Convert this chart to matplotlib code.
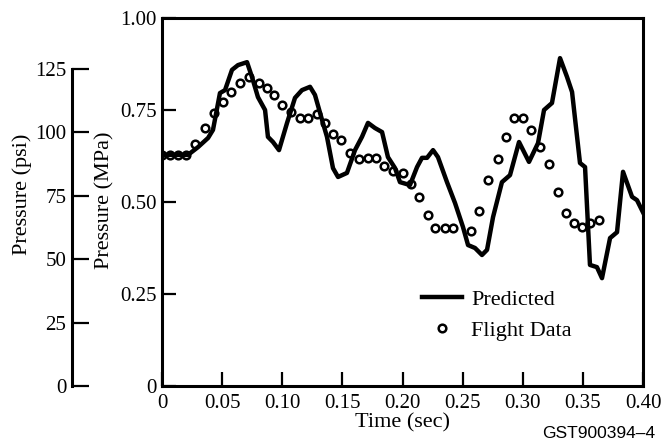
import matplotlib.pyplot as plt
import numpy as np

# Predicted pressure trace (MPa)
pred_t = [0.0, 0.0216, 0.0299, 0.0383, 0.0424, 0.0482, 0.0524, 0.0582, 0.0632, 0.0707,
          0.0748, 0.0798, 0.0857, 0.0881, 0.0923, 0.0973, 0.1040, 0.1106, 0.1164, 0.1231,
          0.1272, 0.1331, 0.1372, 0.1422, 0.1464, 0.1538, 0.1605, 0.1663, 0.1713, 0.1771,
          0.1830, 0.1879, 0.1938, 0.1979, 0.2062, 0.2121, 0.2162, 0.2204, 0.2254, 0.2295,
          0.2370, 0.2437, 0.2503, 0.2545, 0.2603, 0.2661, 0.2703, 0.2753, 0.2827, 0.2894,
          0.2969, 0.3052, 0.3127, 0.3177, 0.3243, 0.3310, 0.3368, 0.3410, 0.3476, 0.3518,
          0.3559, 0.3617, 0.3659, 0.3726, 0.3784, 0.3834, 0.3909, 0.3950, 0.4000]
pred_p = [0.628, 0.628, 0.649, 0.674, 0.696, 0.796, 0.804, 0.859, 0.872, 0.880,
          0.840, 0.785, 0.750, 0.677, 0.663, 0.641, 0.715, 0.783, 0.804, 0.813,
          0.791, 0.723, 0.677, 0.592, 0.568, 0.579, 0.641, 0.677, 0.715, 0.701,
          0.690, 0.622, 0.592, 0.554, 0.546, 0.595, 0.620, 0.620, 0.641, 0.622,
          0.554, 0.497, 0.432, 0.383, 0.375, 0.356, 0.370, 0.459, 0.554, 0.573,
          0.663, 0.609, 0.660, 0.750, 0.769, 0.891, 0.840, 0.799, 0.606, 0.595,
          0.329, 0.323, 0.293, 0.402, 0.418, 0.582, 0.514, 0.505, 0.472]

# Flight data points (MPa)
flight_t = [0.000, 0.0067, 0.0133, 0.0200, 0.0274, 0.0358, 0.0432, 0.0507, 0.0574, 0.0649,
            0.0723, 0.0807, 0.0873, 0.0931, 0.0998, 0.1073, 0.1148, 0.1214, 0.1289, 0.1356,
            0.1422, 0.1489, 0.1563, 0.1638, 0.1713, 0.1780, 0.1846, 0.1921, 0.2004, 0.2071,
            0.2137, 0.2212, 0.2270, 0.2353, 0.2420, 0.2570, 0.2636, 0.2711, 0.2794, 0.2861,
            0.2927, 0.3002, 0.3069, 0.3143, 0.3218, 0.3293, 0.3360, 0.3426, 0.3493, 0.3559,
            0.3634]
flight_p = [0.628, 0.628, 0.628, 0.628, 0.658, 0.701, 0.742, 0.772, 0.799, 0.823,
            0.840, 0.823, 0.810, 0.791, 0.764, 0.745, 0.728, 0.728, 0.739, 0.715,
            0.685, 0.668, 0.633, 0.617, 0.620, 0.620, 0.598, 0.584, 0.579, 0.549,
            0.514, 0.465, 0.429, 0.429, 0.429, 0.421, 0.476, 0.560, 0.617, 0.677,
            0.728, 0.728, 0.696, 0.649, 0.603, 0.527, 0.470, 0.443, 0.432, 0.443,
            0.451]

x_ticks = [0, 0.05, 0.10, 0.15, 0.20, 0.25, 0.30, 0.35, 0.40]
x_labels = ['0', '0.05', '0.10', '0.15', '0.20', '0.25', '0.30', '0.35', '0.40']
mpa_ticks = [0, 0.25, 0.50, 0.75, 1.00]
mpa_labels = ['0', '0.25', '0.50', '0.75', '1.00']
psi_ticks = [0, 25, 50, 75, 100, 125]

PSI_PER_MPA = 145.038

plt.rcParams['font.family'] = ['Liberation Serif', 'DejaVu Serif']

fig = plt.figure(figsize=(6.62, 4.42), dpi=100)
ax = fig.add_axes([162 / 662, 1 - 386 / 442, 481 / 662, 368 / 442])

ax.plot(flight_t, flight_p, 'o', mfc='white', mec='black', ms=5.5, mew=1.8,
        label='Flight Data', zorder=2)
ax.plot(pred_t, pred_p, '-', color='black', lw=3.2, label='Predicted', zorder=3)

ax.set_xlim(0, 0.40)
ax.set_ylim(0, 1.0)
ax.set_xticks(x_ticks)
ax.set_xticklabels(x_labels)
ax.set_yticks(mpa_ticks)
ax.set_yticklabels(mpa_labels)
ax.tick_params(direction='in', length=10, width=1.6, labelsize=15, pad=4)
ax.tick_params(axis='x', pad=6)
for s in ax.spines.values():
    s.set_linewidth(2.2)

ax.set_xlabel('Time (sec)', fontsize=16, labelpad=0)
ax.set_ylabel('Pressure (MPa)', fontsize=16)
ax.yaxis.set_label_coords(-0.098, 0.505)

# second pressure scale in psi
ax2 = ax.twinx()
ax2.set_ylim(0, 1.0 * PSI_PER_MPA)
ax2.yaxis.set_ticks_position('left')
ax2.yaxis.set_label_position('left')
for side in ['top', 'right', 'bottom']:
    ax2.spines[side].set_visible(False)
ax2.spines['left'].set_position(('axes', (72 - 162) / 481))
ax2.spines['left'].set_bounds(0, 125)
ax2.spines['left'].set_linewidth(2.2)
ax2.set_yticks(psi_ticks)
ax2.tick_params(direction='in', length=12, width=1.6, labelsize=15, pad=4)
ax2.set_ylabel('Pressure (psi)', fontsize=16)
ax2.yaxis.set_label_coords(-0.27, 0.52)

handles, labels = ax.get_legend_handles_labels()
ax.legend(handles[::-1], labels[::-1], frameon=False, fontsize=16,
          loc='upper left', bbox_to_anchor=(0.541, 0.262), borderpad=0,
          borderaxespad=0, handlelength=1.8, handletextpad=0.4, labelspacing=0.45)

fig.text(655 / 662, 1 - 438 / 442, 'GST900394\u20134', family='Liberation Sans',
         fontsize=12.5, ha='right', va='baseline')

fig.savefig('out.png', dpi=100)
